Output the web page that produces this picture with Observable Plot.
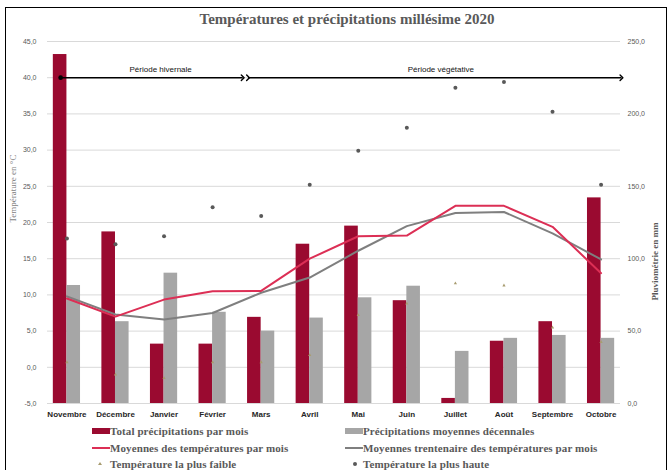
<!DOCTYPE html>
<html><head><meta charset="utf-8">
<script src="https://cdn.jsdelivr.net/npm/d3@7"></script>
<script src="https://cdn.jsdelivr.net/npm/@observablehq/plot@0.6"></script>
<style>
body{margin:0;background:#fff;width:671px;height:470px;overflow:hidden;position:relative;font-family:"Liberation Serif",serif}
#frame{position:absolute;left:5px;top:7px;width:662px;height:480px;border:1px solid #000;box-sizing:border-box}
#title{position:absolute;left:0;width:694px;top:11px;line-height:18px;text-align:center;font:bold 15px "Liberation Serif",serif;color:#595959}
#chart{position:absolute;left:0;top:32px}
.leg{position:absolute;font:bold 11px "Liberation Serif",serif;color:#595959;white-space:nowrap;line-height:14px;letter-spacing:0.1px}
.sw{position:absolute}
</style></head>
<body>
<div id="frame"></div>
<div id="title">Températures et précipitations millésime 2020</div>
<div id="chart"></div>
<div id="legend"></div>
<script>
const months = ["Novembre","Décembre","Janvier","Février","Mars","Avril","Mai","Juin","Juillet","Août","Septembre","Octobre"];
const precip2020 = [241, 118.5, 41, 41, 59.5, 110, 122.5, 71, 3.5, 43, 56.5, 142];
const precipDecade = [81.5, 56.5, 90, 63, 50, 59, 73, 81, 36, 45, 47, 45];
const tempMean2020 = [9.5, 7.0, 9.35, 10.5, 10.55, 15.0, 18.1, 18.2, 22.3, 22.3, 19.4, 13.0];
const tempMean30 = [9.8, 7.3, 6.6, 7.5, 10.3, 12.4, 16.1, 19.5, 21.3, 21.45, 18.5, 14.9];
const tempMax = [17.8, 17.0, 18.1, 22.1, 20.9, 25.2, 29.9, 33.1, 38.6, 39.4, 35.3, 25.2];
const tempMin = [0.7, -1.0, -1.5, 0.7, 0.7, 1.7, 7.2, 8.8, 11.6, 11.3, 5.5, 3.5];
const tempTicks = [-5, 0, 5, 10, 15, 20, 25, 30, 35, 40, 45];
const rainTicks = [0, 50, 100, 150, 200, 250];
const periodNames = ["Période hivernale", "Période végétative"];
const periodLevel = 40;

const RED = "#9a0a30", GREY = "#a6a6a6", LRED = "#dc2f55", LGREY = "#7f7f7f", LOW = "#a89c70";
const rain = v => v / 5 - 5;              // mm -> shared (°C) scale
const fmt = v => v.toFixed(1).replace(".", ",");
const idx = months.map((m, i) => i);
const sans = "Liberation Sans, Arial, sans-serif";
const serif = "Liberation Serif, serif";

const chart = Plot.plot({
  width: 671, height: 391,
  marginTop: 9, marginBottom: 20, marginLeft: 47, marginRight: 51,
  x: {type: "linear", domain: [-0.4, 11.4]},
  y: {domain: [-5, 45]},
  style: {background: "transparent", overflow: "visible"},
  marks: [
    Plot.gridY(tempTicks, {stroke: "#d9d9d9", strokeOpacity: 1}),
    Plot.axisY(tempTicks, {anchor: "left", tickSize: 0, tickPadding: 11, tickFormat: fmt, fontSize: 7, fill: "#595959", fontFamily: sans, label: null}),
    Plot.axisY(rainTicks.map(rain), {anchor: "right", tickSize: 0, tickPadding: 7, tickFormat: t => fmt((t + 5) * 5), fontSize: 7, fill: "#595959", fontFamily: sans, label: null}),
    Plot.axisX(idx, {anchor: "bottom", tickSize: 0, tickPadding: 8, tickFormat: i => months[i], fontSize: 8, fontWeight: "bold", fill: "#262626", fontFamily: sans, label: null}),
    Plot.rect(idx, {x1: i => i - 0.28, x2: i => i, y1: -5, y2: i => rain(precip2020[i]), fill: RED}),
    Plot.rect(idx, {x1: i => i, x2: i => i + 0.28, y1: -5, y2: i => rain(precipDecade[i]), fill: GREY}),
    Plot.line(idx, {x: i => i, y: i => tempMean30[i], stroke: LGREY, strokeWidth: 2}),
    Plot.line(idx, {x: i => i, y: i => tempMean2020[i], stroke: LRED, strokeWidth: 2}),
    Plot.dot(idx, {x: i => i, y: i => tempMin[i], symbol: "triangle", r: 1.2, fill: LOW}),
    Plot.dot(idx, {x: i => i, y: i => tempMax[i], r: 2, fill: "#595959"}),
    Plot.link([0], {x1: -0.13, x2: 3.62, y1: periodLevel, y2: periodLevel, stroke: "#000", strokeWidth: 1.4, markerStart: "dot", markerEnd: "arrow"}),
    Plot.link([0], {x1: 3.73, x2: 11.42, y1: periodLevel, y2: periodLevel, stroke: "#000", strokeWidth: 1.4, markerStart: "arrow", markerEnd: "arrow"}),
    Plot.text([0], {x: 1.93, y: periodLevel, dy: -8, text: [periodNames[0]], fontSize: 8, fontFamily: sans, fill: "#111"}),
    Plot.text([0], {x: 7.7, y: periodLevel, dy: -8, text: [periodNames[1]], fontSize: 8, fontFamily: sans, fill: "#111"}),
    Plot.text(["Température en °C"], {frameAnchor: "left", dx: -34, rotate: -90, fontSize: 9, fontFamily: serif, fill: "#7f7f7f"}),
    Plot.text(["Pluviométrie en mm"], {frameAnchor: "right", dx: 35, rotate: -90, fontSize: 9, fontWeight: "bold", fontFamily: serif, fill: "#595959"})
  ]
});
document.getElementById("chart").appendChild(chart);

// legend
const legendItems = [
  {label: "Total précipitations par mois", kind: "bar", color: RED, col: 0, row: 0},
  {label: "Précipitations moyennes décennales", kind: "bar", color: GREY, col: 1, row: 0},
  {label: "Moyennes des températures par mois", kind: "line", color: LRED, col: 0, row: 1},
  {label: "Moyennes trentenaire des températures par mois", kind: "line", color: LGREY, col: 1, row: 1},
  {label: "Température la plus faible", kind: "tri", color: LOW, col: 0, row: 2},
  {label: "Température la plus haute", kind: "dot", color: "#595959", col: 1, row: 2}
];
const colX = [92, 345], rowY = [431, 448, 464];
const leg = document.getElementById("legend");
for (const it of legendItems) {
  const x = colX[it.col], y = rowY[it.row];
  const s = document.createElement("div");
  s.className = "sw";
  if (it.kind === "bar") { Object.assign(s.style, {left: x + "px", top: (y - 3) + "px", width: "18px", height: "6px", background: it.color}); }
  else if (it.kind === "line") { Object.assign(s.style, {left: x + "px", top: (y - 1) + "px", width: "18px", height: "2px", background: it.color}); }
  else if (it.kind === "dot") { Object.assign(s.style, {left: (x + 8) + "px", top: (y - 2) + "px", width: "4px", height: "4px", borderRadius: "2px", background: it.color}); }
  else { Object.assign(s.style, {left: (x + 6) + "px", top: (y - 2) + "px", width: "0", height: "0", borderLeft: "2px solid transparent", borderRight: "2px solid transparent", borderBottom: "3px solid " + it.color}); }
  leg.appendChild(s);
  const t = document.createElement("div");
  t.className = "leg";
  t.textContent = it.label;
  Object.assign(t.style, {left: (x + 18) + "px", top: (y - 7) + "px"});
  leg.appendChild(t);
}
</script>
</body></html>
